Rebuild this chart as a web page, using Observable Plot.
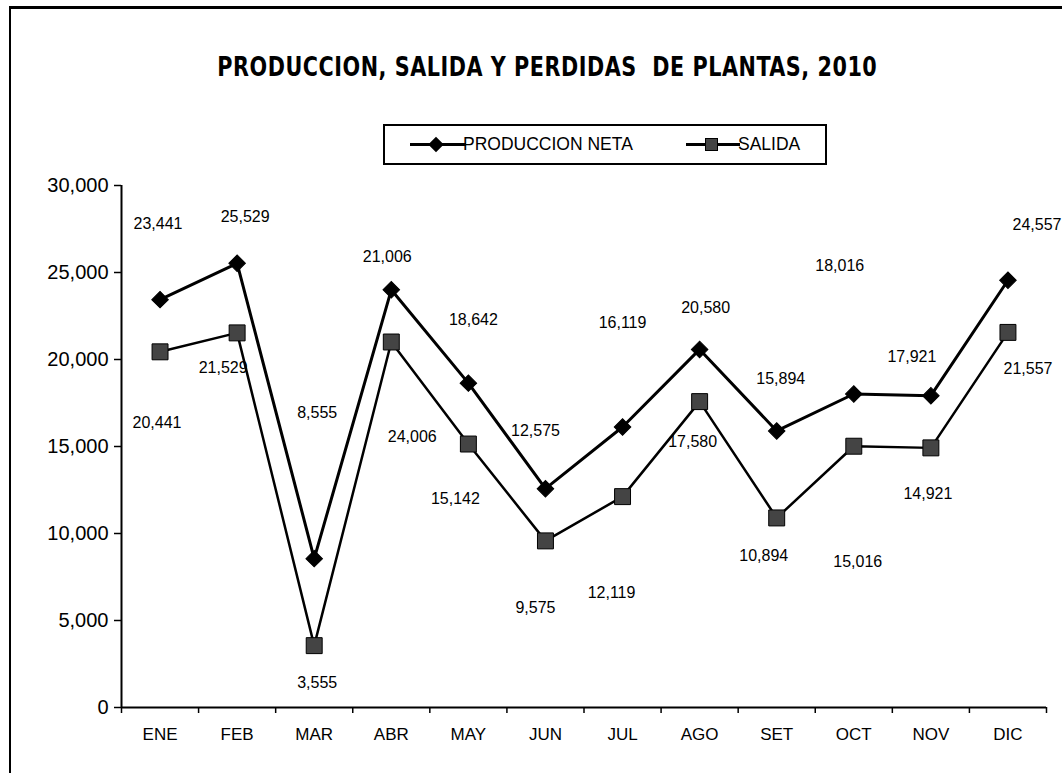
<!DOCTYPE html>
<html>
<head>
<meta charset="utf-8">
<script src="https://cdn.jsdelivr.net/npm/d3@7"></script>
<script src="https://cdn.jsdelivr.net/npm/@observablehq/plot@0.6"></script>
<style>
  html, body { margin: 0; padding: 0; background: #fff; }
  #wrap { position: relative; width: 1062px; height: 773px; overflow: hidden; background: #fff; }
  #frame { position: absolute; left: 9px; top: 6px; width: 1100px; height: 800px;
           border-top: 3px solid #000; border-left: 2px solid #000; pointer-events: none; z-index: 5; }
  #header { position: relative; height: 170px; }
  #titlebox { position: absolute; left: 0; width: 1094px; top: 54px; text-align: center; }
  #title { display: inline-block; transform-origin: 50% 50%;
           font-family: "Liberation Sans Narrow", "DejaVu Sans Condensed", "Arial Narrow", sans-serif;
           font-stretch: condensed; font-weight: bold; font-size: 26px; line-height: 26px;
           letter-spacing: 0.6px; white-space: pre; color: #000; }
  #legend { position: absolute; left: 383px; top: 124px; width: 444px; height: 41px;
            box-sizing: border-box; border: 2px solid #000; background: #fff; }
  #legend .sym { position: absolute; top: 0; }
  #legend .lab { position: absolute; top: 0; line-height: 37px;
                 font-family: "Liberation Sans", Arial, sans-serif; font-size: 17.5px; color: #000; white-space: nowrap; }
  #chart { position: absolute; left: 0; top: 170px; }
</style>
</head>
<body>
<div id="wrap">
  <div id="frame"></div>
  <div id="header">
    <div id="titlebox"><span id="title"></span></div>
    <div id="legend"></div>
  </div>
  <div id="chart"></div>
</div>
<script>
// ---- Data ----
const titleText = "PRODUCCION, SALIDA Y PERDIDAS  DE PLANTAS, 2010";
const seriesNames = ["PRODUCCION NETA", "SALIDA"];
const months = ["ENE", "FEB", "MAR", "ABR", "MAY", "JUN", "JUL", "AGO", "SET", "OCT", "NOV", "DIC"];
const produccion = [23441, 25529, 8555, 24006, 18642, 12575, 16119, 20580, 15894, 18016, 17921, 24557];
const salida = [20441, 21529, 3555, 21006, 15142, 9575, 12119, 17580, 10894, 15016, 14921, 21557];
const produccionLabels = ["23,441", "25,529", "8,555", "21,006", "18,642", "12,575", "16,119", "20,580", "15,894", "18,016", "17,921", "24,557"];
const salidaLabels = ["20,441", "21,529", "3,555", "24,006", "15,142", "9,575", "12,119", "17,580", "10,894", "15,016", "14,921", "21,557"];
const yTicks = [0, 5000, 10000, 15000, 20000, 25000, 30000];

// ---- Header (title + legend) ----
const titleEl = document.getElementById("title");
titleEl.textContent = titleText;
const tw = titleEl.getBoundingClientRect().width;
if (tw > 0) titleEl.style.transform = `scaleX(${660 / tw})`;

const legend = document.getElementById("legend");
legend.innerHTML =
  `<svg class="sym" style="left:25px" width="56" height="37">
     <line x1="0" x2="56" y1="18.5" y2="18.5" stroke="#000" stroke-width="3"/>
     <rect x="20.5" y="13" width="11" height="11" fill="#000" transform="rotate(45 26 18.5)"/>
   </svg>
   <span class="lab" style="left:78px">${seriesNames[0]}</span>
   <svg class="sym" style="left:301px" width="54" height="37">
     <line x1="0" x2="54" y1="18.5" y2="18.5" stroke="#000" stroke-width="3"/>
     <rect x="19.5" y="12.5" width="12" height="12" fill="#444" stroke="#000" stroke-width="1"/>
   </svg>
   <span class="lab" style="left:353px">${seriesNames[1]}</span>`;

// ---- Chart ----
const rows = months.map((m, i) => ({
  i, m, prod: produccion[i], sal: salida[i],
  prodLabel: produccionLabels[i], salLabel: salidaLabels[i]
}));
const xc = d => d.i + 0.5;

// label placement offsets in pixels (text center relative to the point)
const prodOff = [[-2,-76],[8,-46],[3,-146],[-4,-33],[5,-63],[-10,-58],[0,-104],[6,-42],[4,-52],[-14,-128],[-19,-39],[29,-55]];
const salOff  = [[-3,71],[-14,35],[3,37],[21,95],[-13,55],[-10,67],[-11,96],[-7,40],[-13,38],[4,116],[-3,46],[20,36]];

const labelMarks = [];
rows.forEach((r, k) => {
  labelMarks.push(Plot.text([r], {x: xc, y: "prod", text: "prodLabel", dx: prodOff[k][0], dy: prodOff[k][1],
    fontSize: 16, fill: "#000"}));
  labelMarks.push(Plot.text([r], {x: xc, y: "sal", text: "salLabel", dx: salOff[k][0], dy: salOff[k][1],
    fontSize: 16, fill: "#000"}));
});

const chart = Plot.plot({
  width: 1062,
  height: 603,
  marginTop: 15,
  marginBottom: 66,
  marginLeft: 121,
  marginRight: 16,
  x: {domain: [0, 12], label: null},
  y: {domain: [0, 30000], label: null},
  style: {fontFamily: "'Liberation Sans', Arial, sans-serif", background: "#fff", color: "#000", overflow: "visible"},
  marks: [
    Plot.axisY({ticks: yTicks, tickFormat: d3.format(","), tickSize: 7, tickPadding: 6,
      fontSize: 20, strokeWidth: 1.5, label: null}),
    Plot.axisX({ticks: d3.range(12).map(i => i + 0.5), tickFormat: v => months[Math.floor(v)],
      tickSize: 0, tickPadding: 20, fontSize: 17, label: null}),
    Plot.axisX({ticks: d3.range(13), tickFormat: () => "", tickSize: 6, strokeWidth: 1.5, label: null}),
    Plot.ruleX([0], {y1: 0, y2: 30000, stroke: "#000", strokeWidth: 2}),
    Plot.ruleY([0], {stroke: "#000", strokeWidth: 2}),
    Plot.line(rows, {x: xc, y: "prod", stroke: "#000", strokeWidth: 3}),
    Plot.line(rows, {x: xc, y: "sal", stroke: "#000", strokeWidth: 2.5}),
    Plot.dot(rows, {x: xc, y: "prod", symbol: "square", r: 6.6, rotate: 45, fill: "#000", stroke: "#000", strokeWidth: 1}),
    Plot.dot(rows, {x: xc, y: "sal", symbol: "square", r: 9, fill: "#444", stroke: "#000", strokeWidth: 1}),
    ...labelMarks
  ]
});
document.getElementById("chart").appendChild(chart);
</script>
</body>
</html>
